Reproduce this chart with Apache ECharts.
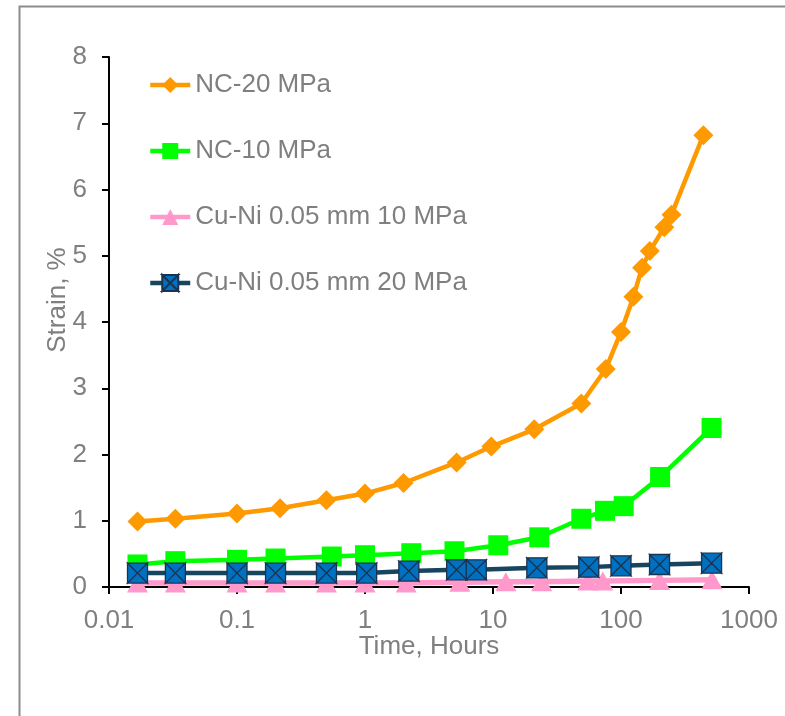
<!DOCTYPE html>
<html>
<head>
<meta charset="utf-8">
<script src="https://cdn.jsdelivr.net/npm/echarts@6/dist/echarts.min.js"></script>
<style>
html,body{margin:0;padding:0;background:#fff;}
#main{width:785px;height:716px;}
</style>
</head>
<body>
<div id="main"></div>
<script>
var xTickLabels = ['0.01','0.1','1','10','100','1000'];
var yTicks = [0,1,2,3,4,5,6,7,8];

var nc20Time = [0.0167, 0.033, 0.1, 0.217, 0.5, 1, 2, 5.2, 9.7, 21, 49, 76, 100, 125, 146, 168, 218, 248, 440];
var nc20Strain = [0.99, 1.03, 1.11, 1.19, 1.31, 1.41, 1.57, 1.88, 2.12, 2.38, 2.77, 3.29, 3.85, 4.38, 4.82, 5.07, 5.43, 5.62, 6.82];

var nc10Time = [0.0167, 0.033, 0.1, 0.2, 0.55, 1, 2.3, 5, 11, 23, 49, 75, 105, 202, 510];
var nc10Strain = [0.34, 0.39, 0.41, 0.43, 0.46, 0.48, 0.51, 0.54, 0.63, 0.75, 1.03, 1.15, 1.22, 1.66, 2.40];

var cuni10Time = [0.0167, 0.033, 0.1, 0.2, 0.5, 1, 2.1, 5.5, 12.6, 24, 55, 72, 200, 514];
var cuni10Strain = [0.06, 0.06, 0.06, 0.06, 0.06, 0.06, 0.06, 0.07, 0.08, 0.08, 0.09, 0.09, 0.10, 0.11];

var cuni20Time = [0.0167, 0.033, 0.1, 0.2, 0.5, 1.03, 2.2, 5.2, 7.4, 22, 56, 100, 200, 510];
var cuni20Strain = [0.21, 0.21, 0.21, 0.21, 0.21, 0.21, 0.24, 0.26, 0.26, 0.29, 0.30, 0.32, 0.34, 0.36];

function pairs(xs, ys){ return xs.map(function(x,i){ return [x, ys[i]]; }); }

var FONT = 'Liberation Sans, Arial, sans-serif';
var GRAY = '#7f7f7f';
var FS = 26;
var xSym = 'path://M0,0L10,0L5,5Z M10,0L10,10L5,5Z M10,10L0,10L5,5Z M0,10L0,0L5,5Z';

var chart = echarts.init(document.getElementById('main'), null, {renderer:'canvas'});
chart.setOption({
  animation:false,
  backgroundColor:'#ffffff',
  graphic:[{
    type:'rect', silent:true, z:-10,
    shape:{x:19.5, y:6.5, width:900, height:900},
    style:{fill:'none', stroke:'#8c8c8c', lineWidth:2}
  }],
  grid:{left:109, right:36, top:57, bottom:129, containLabel:false},
  legend:{
    orient:'vertical', left:143, top:67,
    itemWidth:40, itemHeight:20, itemGap:40,
    lineStyle:{width:4.5},
    textStyle:{fontFamily:FONT, fontSize:FS, color:GRAY, lineHeight:26},
    data:['NC-20 MPa','NC-10 MPa','Cu-Ni 0.05 mm 10 MPa','Cu-Ni 0.05 mm 20 MPa']
  },
  xAxis:{
    type:'log', logBase:10, min:0.01, max:1000,
    name:'Time, Hours', nameLocation:'middle', nameGap:47, nameMoveOverlap:false,
    nameTextStyle:{fontFamily:FONT, fontSize:FS, color:GRAY},
    axisLine:{show:true, onZero:false, lineStyle:{color:'#000', width:2}},
    axisTick:{show:true, length:7, lineStyle:{color:'#000', width:2}},
    minorTick:{show:false},
    splitLine:{show:false},
    axisLabel:{fontFamily:FONT, fontSize:FS, color:GRAY, margin:21,
      formatter:function(v){
        var e = Math.round(Math.log10(v));
        return xTickLabels[e+2];
      }}
  },
  yAxis:{
    type:'value', min:yTicks[0], max:yTicks[yTicks.length-1], interval:1,
    name:'Strain, %', nameLocation:'middle', nameGap:38, nameMoveOverlap:false,
    nameTextStyle:{fontFamily:FONT, fontSize:FS, color:GRAY, padding:[0,0,0,44]},
    axisLine:{show:true, lineStyle:{color:'#000', width:2}},
    axisTick:{show:true, length:7, lineStyle:{color:'#000', width:2}},
    splitLine:{show:false},
    axisLabel:{fontFamily:FONT, fontSize:FS, color:GRAY, margin:22}
  },
  series:[
    {
      name:'NC-20 MPa', type:'line', clip:false,
      data:pairs(nc20Time, nc20Strain),
      symbol:'diamond', symbolSize:20,
      lineStyle:{color:'#ff9900', width:4.5},
      itemStyle:{color:'#ff9900'}
    },
    {
      name:'NC-10 MPa', type:'line', clip:false,
      data:pairs(nc10Time, nc10Strain),
      symbol:'rect', symbolSize:20,
      lineStyle:{color:'#00ff00', width:4.5},
      itemStyle:{color:'#00ff00'}
    },
    {
      name:'Cu-Ni 0.05 mm 10 MPa', type:'line', clip:false,
      data:pairs(cuni10Time, cuni10Strain),
      symbol:'triangle', symbolSize:[21,19],
      lineStyle:{color:'#ff99cc', width:5.5},
      itemStyle:{color:'#ff99cc'}
    },
    {
      name:'Cu-Ni 0.05 mm 20 MPa', type:'line', clip:false,
      data:pairs(cuni20Time, cuni20Strain),
      symbol:xSym, symbolSize:20, symbolKeepAspect:true,
      lineStyle:{color:'#17455e', width:4.5},
      itemStyle:{color:'#0070c0', borderColor:'#1a3350', borderWidth:1.3}
    }
  ]
});
</script>
</body>
</html>
